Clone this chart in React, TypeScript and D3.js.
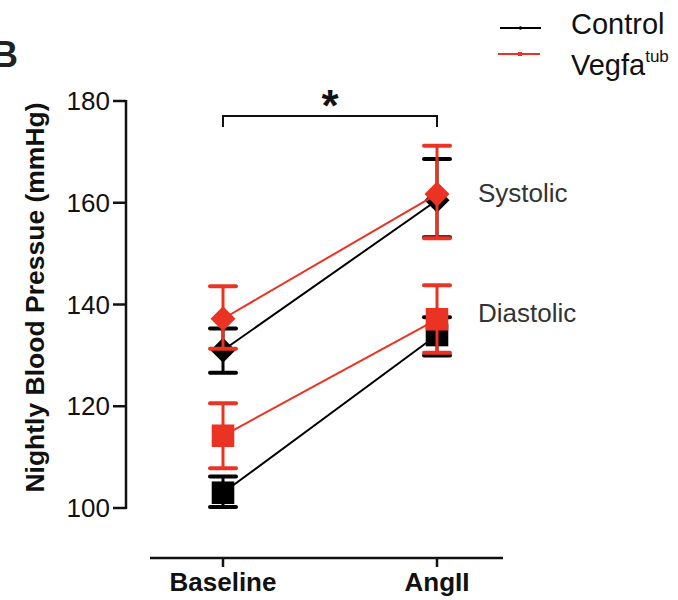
import React from 'react';
import * as d3 from 'd3';

// timepoints on the x axis
const timepoints = ['Baseline', 'AngII'];
const yTicks = [100, 120, 140, 160, 180];

// means and error bars (low / high)
const controlSystolic = [131, 160.5];
const controlSystolicLo = [126.6, 153.2];
const controlSystolicHi = [135.3, 168.6];
const controlDiastolic = [103, 134];
const controlDiastolicLo = [100.2, 130];
const controlDiastolicHi = [106.2, 137.5];

const vegfaSystolic = [137.2, 161.7];
const vegfaSystolicLo = [131.3, 153];
const vegfaSystolicHi = [143.6, 171.2];
const vegfaDiastolic = [114.2, 137.1];
const vegfaDiastolicLo = [107.8, 130.5];
const vegfaDiastolicHi = [120.6, 143.8];

const RED = '#ea3323';
const BLACK = '#000000';
const FONT = "'Liberation Sans', Arial, Helvetica, sans-serif";

function App() {
    const width = 678;
    const height = 600;

    const x = d3.scalePoint().domain(timepoints).range([223, 437]);
    const y = d3.scaleLinear().domain([100, 180]).range([508, 101]);

    const line = d3.line<number>()
        .x((d, i) => x(timepoints[i]) as number)
        .y((d) => y(d));

    const diamond = d3.symbol().type(d3.symbolDiamond2).size(400)();
    const square = d3.symbol().type(d3.symbolSquare).size(510)();

    const drawSeries = (vals: number[], lo: number[], hi: number[], color: string, shape: string | null, key: string) => (
        <g key={key}>
            <path d={line(vals) || ''} fill="none" stroke={color} strokeWidth={2} />
            {vals.map((v, i) => {
                const cx = x(timepoints[i]) as number;
                return (
                    <g key={i}>
                        <line x1={cx} x2={cx} y1={y(lo[i])} y2={y(hi[i])} stroke={color} strokeWidth={3} />
                        <line x1={cx - 13} x2={cx + 13} y1={y(lo[i])} y2={y(lo[i])} stroke={color} strokeWidth={4} strokeLinecap="round" />
                        <line x1={cx - 13} x2={cx + 13} y1={y(hi[i])} y2={y(hi[i])} stroke={color} strokeWidth={4} strokeLinecap="round" />
                        <path d={shape || ''} transform={`translate(${cx},${y(v)})`} fill={color} />
                    </g>
                );
            })}
        </g>
    );

    const axisX = 126;
    const bracketY = 116;

    return (
        <svg width={width} height={height} style={{ position: 'absolute', left: 0, top: 0 }}>
            <rect width={width} height={height} fill="white" />
            {/* panel letter, cut at the left edge as in the figure */}
            <text x={-8} y={67} fontFamily={FONT} fontWeight="bold" fontSize={36} fill="#222">B</text>

            {/* y axis */}
            <line x1={axisX} x2={axisX} y1={y(180) - 1} y2={y(100) + 1} stroke="#111" strokeWidth={2.5} />
            {yTicks.map((t) => (
                <g key={t}>
                    <line x1={axisX - 13} x2={axisX} y1={y(t)} y2={y(t)} stroke="#111" strokeWidth={2.5} />
                    <text x={axisX - 16} y={y(t) + 9} textAnchor="end" fontFamily={FONT} fontSize={26} fill="#111">{t}</text>
                </g>
            ))}
            <text transform={`translate(44,${(y(100) + y(180)) / 2 - 7}) rotate(-90)`} textAnchor="middle"
                fontFamily={FONT} fontWeight="bold" fontSize={26.5} fill="#111">Nightly Blood Pressue (mmHg)</text>

            {/* x axis */}
            <line x1={150} x2={503} y1={558} y2={558} stroke="#111" strokeWidth={2.5} />
            {timepoints.map((t) => (
                <g key={t}>
                    <line x1={x(t) as number} x2={x(t) as number} y1={558} y2={567} stroke="#111" strokeWidth={2.5} />
                    <text x={x(t) as number} y={591} textAnchor="middle" fontFamily={FONT} fontWeight="bold" fontSize={26} fill="#111">{t}</text>
                </g>
            ))}

            {/* significance bracket */}
            <path d={`M${x('Baseline')},${bracketY + 11}V${bracketY}H${x('AngII')}V${bracketY + 11}`} fill="none" stroke="#111" strokeWidth={2} />
            <text x={330} y={121} textAnchor="middle" fontFamily={FONT} fontWeight="bold" fontSize={44} fill="#111">*</text>

            {/* data */}
            {drawSeries(controlSystolic, controlSystolicLo, controlSystolicHi, BLACK, diamond, 'cs')}
            {drawSeries(controlDiastolic, controlDiastolicLo, controlDiastolicHi, BLACK, square, 'cd')}
            {drawSeries(vegfaSystolic, vegfaSystolicLo, vegfaSystolicHi, RED, diamond, 'vs')}
            {drawSeries(vegfaDiastolic, vegfaDiastolicLo, vegfaDiastolicHi, RED, square, 'vd')}

            {/* labels */}
            <text x={478} y={202} fontFamily={FONT} fontSize={26} fill="#333">Systolic</text>
            <text x={478} y={322} fontFamily={FONT} fontSize={26} fill="#333">Diastolic</text>

            {/* legend */}
            <line x1={500} x2={541} y1={28} y2={28} stroke={BLACK} strokeWidth={2} />
            <circle cx={520.5} cy={28} r={1.8} fill={BLACK} />
            <text x={571} y={34} fontFamily={FONT} fontSize={29} fill="#111">Control</text>
            <line x1={498} x2={540} y1={54} y2={54} stroke={RED} strokeWidth={2} />
            <rect x={518} y={52} width={4} height={4} fill={RED} />
            <text x={571} y={75} fontFamily={FONT} fontSize={29} fill="#111">Vegfa<tspan fontSize={17} dy={-13}>tub</tspan></text>
        </svg>
    );
}

export default App;
